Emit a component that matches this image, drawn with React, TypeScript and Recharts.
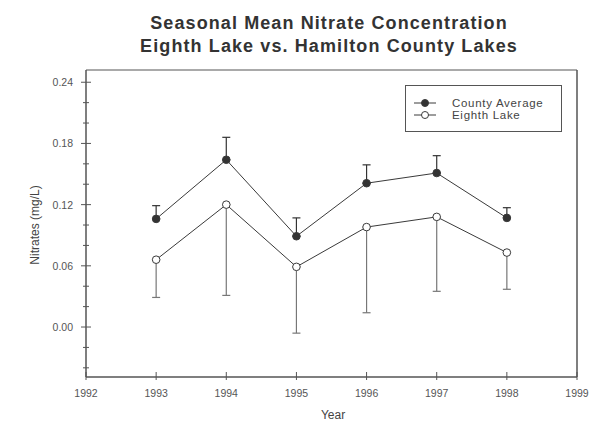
import { ComposedChart, Line, XAxis, YAxis, ErrorBar, ReferenceLine } from "recharts";

const INK = "#3a3a3a";
const AXIS = "#555555";
const FONT = "'Liberation Sans', Arial, sans-serif";

// seasons and values
const years = [1993, 1994, 1995, 1996, 1997, 1998];
const countyAvg = [0.106, 0.164, 0.089, 0.141, 0.151, 0.107];
const countyHigh = [0.119, 0.186, 0.107, 0.159, 0.168, 0.117];
const eighthLake = [0.066, 0.12, 0.059, 0.098, 0.108, 0.073];
const eighthLow = [0.029, 0.031, -0.006, 0.014, 0.035, 0.037];

const xTicks = [1992, 1993, 1994, 1995, 1996, 1997, 1998, 1999];
const yMajor = [0, 0.06, 0.12, 0.18, 0.24];
const yTicks = [-0.04, -0.02, 0, 0.02, 0.04, 0.06, 0.08, 0.1, 0.12, 0.14, 0.16, 0.18, 0.2, 0.22, 0.24];
const Y_DOMAIN: [number, number] = [-0.049, 0.252];

const data = years.map((year, i) => ({
  year,
  county: countyAvg[i],
  countyErr: [0, countyHigh[i] - countyAvg[i]],
  lake: eighthLake[i],
  lakeErr: [eighthLake[i] - eighthLow[i], 0],
}));

const isMajor = (v: number) => yMajor.some((m) => Math.abs(m - v) < 1e-6);

function LeftTick(props: any) {
  const { x, y, payload } = props;
  const major = isMajor(payload.value);
  const h = major ? 5 : 3;
  return (
    <g>
      <line x1={x - h} x2={x + h} y1={y} y2={y} stroke={AXIS} strokeWidth={1} />
      {major && (
        <text x={x - 13} y={y + 4} textAnchor="end" fontSize={10.5} fill="#555" fontFamily={FONT}>
          {payload.value.toFixed(2)}
        </text>
      )}
    </g>
  );
}

function RightTick(props: any) {
  const { x, y } = props;
  return <line x1={x - 3} x2={x + 3} y1={y} y2={y} stroke={AXIS} strokeWidth={1} />;
}

function XTick(props: any) {
  const { x, y, payload } = props;
  return (
    <g>
      <line x1={x} x2={x} y1={y - 5} y2={y + 3} stroke={AXIS} strokeWidth={1} />
      <text x={x} y={y + 20} textAnchor="middle" fontSize={10.5} fill="#555" fontFamily={FONT}>
        {payload.value}
      </text>
    </g>
  );
}

function LegendBox() {
  const row = (filled: boolean, label: string) => (
    <div style={{ display: "flex", alignItems: "center", height: 12 }}>
      <svg width={26} height={10}>
        <line x1={1} x2={23} y1={5} y2={5} stroke={INK} strokeWidth={1} />
        <circle cx={12} cy={5} r={3.5} fill={filled ? "#333" : "#fff"} stroke={INK} strokeWidth={1} />
      </svg>
      <span
        style={{
          marginLeft: 13,
          fontSize: 11.5,
          lineHeight: "12px",
          letterSpacing: 0.7,
          color: "#444",
          fontFamily: FONT,
          whiteSpace: "nowrap",
        }}
      >
        {label}
      </span>
    </div>
  );
  return (
    <div
      style={{
        position: "absolute",
        left: 405,
        top: 85,
        width: 157,
        height: 47,
        boxSizing: "border-box",
        border: "1px solid #555",
        padding: "11px 0 0 7px",
        background: "#fff",
      }}
    >
      {row(true, "County Average")}
      {row(false, "Eighth Lake")}
    </div>
  );
}

export default function App() {
  return (
    <div style={{ position: "absolute", left: 0, top: 0, width: 609, height: 423, background: "#fff", overflow: "hidden" }}>
      <ComposedChart
        width={609}
        height={423}
        data={data}
        margin={{ top: 70, right: 31, bottom: 16, left: 36 }}
        style={{ position: "absolute", left: 0, top: 0 }}
      >
        <XAxis
          dataKey="year"
          type="number"
          domain={[1992, 1999]}
          ticks={xTicks}
          interval={0}
          height={30}
          axisLine={{ stroke: AXIS, strokeWidth: 1.5 }}
          tickLine={false}
          tickSize={0}
          tickMargin={0}
          tick={<XTick />}
        />
        <YAxis
          yAxisId="left"
          type="number"
          domain={Y_DOMAIN}
          ticks={yTicks}
          interval={0}
          width={50}
          axisLine={{ stroke: AXIS, strokeWidth: 1.5 }}
          tickLine={false}
          tickSize={0}
          tickMargin={0}
          tick={<LeftTick />}
        />
        <YAxis
          yAxisId="right"
          orientation="right"
          type="number"
          domain={Y_DOMAIN}
          ticks={yTicks}
          interval={0}
          width={1}
          axisLine={{ stroke: AXIS, strokeWidth: 1.5 }}
          tickLine={false}
          tickSize={0}
          tickMargin={0}
          tick={<RightTick />}
        />
        <ReferenceLine yAxisId="left" y={Y_DOMAIN[1]} stroke={AXIS} strokeWidth={1} />
        <Line
          yAxisId="left"
          dataKey="county"
          name="County Average"
          stroke={INK}
          strokeWidth={1}
          isAnimationActive={false}
          dot={{ r: 3.8, fill: "#333", stroke: INK, strokeWidth: 1 }}
        >
          <ErrorBar dataKey="countyErr" width={4} stroke="#333" strokeWidth={1.2} direction="y" />
        </Line>
        <Line
          yAxisId="left"
          dataKey="lake"
          name="Eighth Lake"
          stroke={INK}
          strokeWidth={1}
          isAnimationActive={false}
          dot={{ r: 3.8, fill: "#fff", stroke: INK, strokeWidth: 1 }}
        >
          <ErrorBar dataKey="lakeErr" width={4} stroke="#777" strokeWidth={1.2} direction="y" />
        </Line>
      </ComposedChart>
      <div
        style={{
          position: "absolute",
          left: 0,
          width: 658,
          top: 12,
          textAlign: "center",
          fontFamily: FONT,
          fontWeight: "bold",
          fontSize: 18,
          letterSpacing: 1.1,
          lineHeight: "23px",
          color: "#333",
        }}
      >
        <div>Seasonal Mean Nitrate Concentration</div>
        <div>Eighth Lake vs. Hamilton County Lakes</div>
      </div>
      <div
        style={{
          position: "absolute",
          left: 35,
          top: 225,
          transform: "translate(-50%, -50%) rotate(-90deg)",
          whiteSpace: "nowrap",
          fontSize: 12,
          color: "#444",
          fontFamily: FONT,
        }}
      >
        Nitrates (mg/L)
      </div>
      <div
        style={{
          position: "absolute",
          left: 333,
          top: 415,
          transform: "translate(-50%, -50%)",
          fontSize: 12,
          lineHeight: "13px",
          color: "#444",
          fontFamily: FONT,
        }}
      >
        Year
      </div>
      <LegendBox />
    </div>
  );
}
